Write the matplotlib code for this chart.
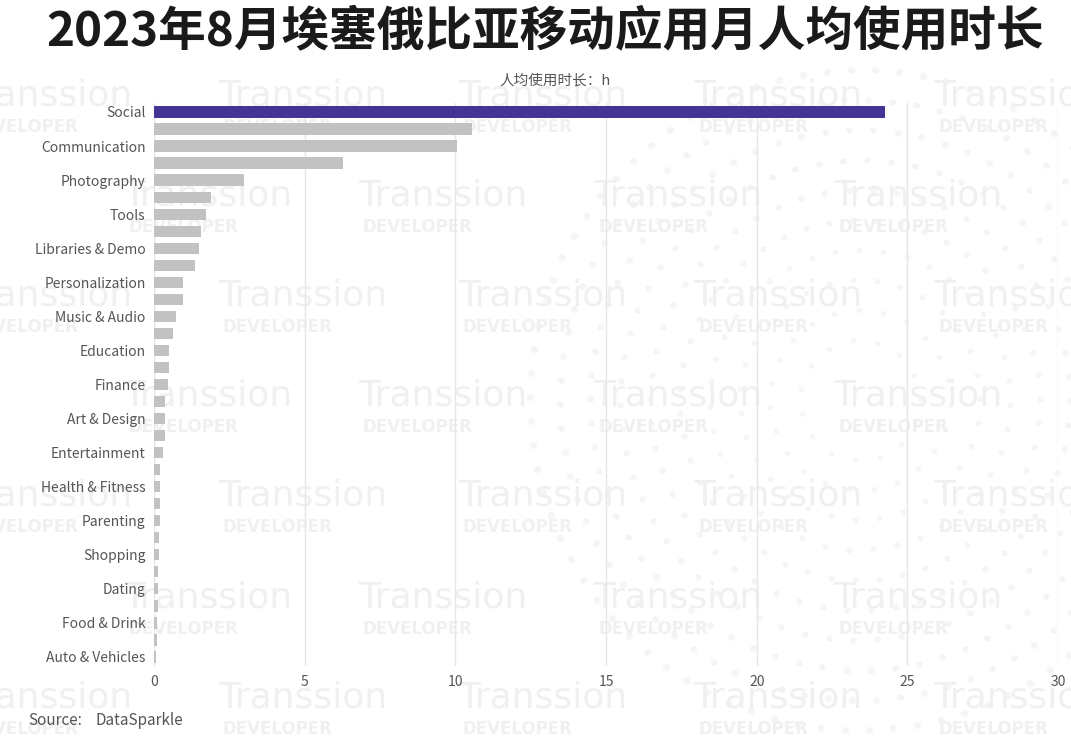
import numpy as np
import matplotlib.pyplot as plt

plt.rcParams['font.family'] = ['Noto Sans CJK SC', 'DejaVu Sans']

# every bar, top to bottom; only every other bar carries a label
labels = ['Social', '', 'Communication', '', 'Photography', '', 'Tools', '',
          'Libraries & Demo', '', 'Personalization', '', 'Music & Audio', '',
          'Education', '', 'Finance', '', 'Art & Design', '', 'Entertainment', '',
          'Health & Fitness', '', 'Parenting', '', 'Shopping', '', 'Dating', '',
          'Food & Drink', '', 'Auto & Vehicles']
hours = [24.26, 10.55, 10.06, 6.27, 2.99, 1.89, 1.73, 1.56, 1.49, 1.36,
         0.96, 0.95, 0.73, 0.62, 0.51, 0.51, 0.48, 0.37, 0.35, 0.35,
         0.31, 0.21, 0.20, 0.19, 0.19, 0.17, 0.17, 0.14, 0.13, 0.12,
         0.10, 0.09, 0.08]
xticks = [0, 5, 10, 15, 20, 25, 30]

fig = plt.figure(figsize=(10.71, 7.37), dpi=100)

# background watermark
bg = fig.add_axes([0, 0, 1, 1], zorder=0)
bg.set_xlim(0, 1071)
bg.set_ylim(737, 0)
bg.axis('off')
for ring in range(2, 12):
    r = ring * 30
    n = int(2 * np.pi * r / 24)
    t = np.linspace(0, 2 * np.pi, n, endpoint=False) + ring * 0.2
    bg.scatter(860 + r * np.cos(t), 400 + r * np.sin(t), s=10 + ring * 1.5,
               color='#f5f5f5', lw=0)
for i, y in enumerate([95, 195, 295, 395, 495, 597, 697]):
    xs = [-40, 215, 455, 690, 930] if i % 2 == 0 else [120, 355, 590, 830]
    for x in xs:
        bg.text(x + 88, y, 'Transsion', fontsize=26, color='#f0f0f0',
                ha='center', va='center', family='DejaVu Sans')
        bg.text(x + 8, y + 32, 'DEVELOPER', fontsize=12, color='#f0f0f0',
                ha='left', va='center', fontweight='bold', family='DejaVu Sans')

ax = fig.add_axes([0.1438, 0.097, 0.8442, 0.7626], zorder=1)
ax.patch.set_alpha(0)
y = np.arange(len(hours))
colors = ['#433594'] + ['#c2c2c2'] * (len(hours) - 1)
ax.barh(y, hours, height=0.66, color=colors, zorder=2)
ax.set_ylim(len(hours) - 0.5, -0.5)
ax.set_xlim(0, 30)
ax.set_xticks(xticks)
ax.set_yticks(y)
ax.set_yticklabels(labels)
ax.tick_params(axis='both', length=0, colors='#555555', labelsize=10)
ax.tick_params(axis='x', pad=7)
ax.tick_params(axis='y', pad=6)
ax.grid(axis='x', color='#e6e6e6', linewidth=1, zorder=0)
for s in ax.spines.values():
    s.set_visible(False)

fig.text(0.509, 0.956, '2023年8月埃塞俄比亚移动应用月人均使用时长', ha='center',
         va='center', fontsize=34.3, fontweight='bold', color='#1a1a1a')
fig.text(0.518, 0.891, '人均使用时长：h', ha='center', va='center',
         fontsize=10.5, color='#555555')
fig.text(0.026, 0.022, 'Source:', ha='left', va='center', fontsize=11,
         color='#555555')
fig.text(0.089, 0.022, 'DataSparkle', ha='left', va='center', fontsize=11,
         color='#555555')

fig.savefig('out.png', dpi=100)
